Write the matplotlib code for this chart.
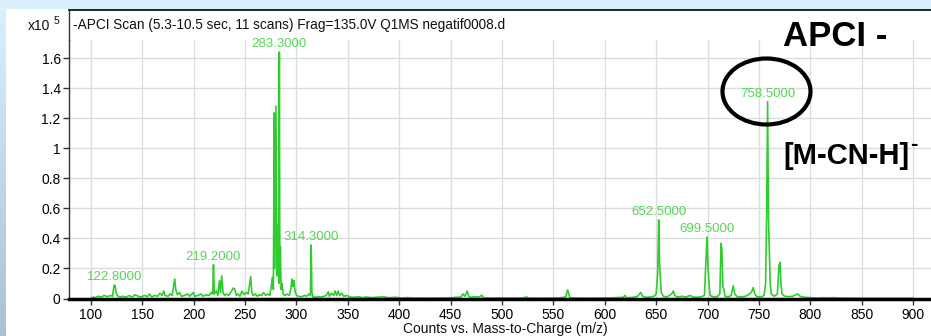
"""APCI negative mode mass spectrum (Q1MS scan) recreated as a static figure."""

from __future__ import annotations

import matplotlib
import numpy as np

matplotlib.use("Agg")
import matplotlib.pyplot as plt
from matplotlib.lines import Line2D
from matplotlib.patches import Ellipse, Rectangle


FIG_W_PX = 931
FIG_H_PX = 336
DPI = 100

SPECTRUM_COLOR = "#2fcc2f"
LABEL_COLOR = "#55d655"
GRID_COLOR = "#dcdcdc"

TITLE_TEXT = "-APCI Scan (5.3-10.5 sec, 11 scans) Frag=135.0V Q1MS negatif0008.d"
X_LABEL = "Counts vs. Mass-to-Charge (m/z)"

# profile: m/z and counts (x1e5)
mz_values = [
    100, 102, 104, 107, 110, 113, 116, 119, 121, 122.3, 122.8, 123.5, 124.5, 125.5,
    128, 131, 134, 137, 140, 143, 146, 149, 152, 155, 157, 159, 162, 165, 167, 169,
    171, 172, 175, 177, 179, 181.5, 182.5, 184, 186, 188, 191, 194, 196, 199.5, 201,
    204, 207, 209, 212, 215, 217, 218.5, 219.2, 220, 222, 223.5, 225, 226, 227.2,
    228.5, 230, 232, 234, 236, 238.5, 240, 241.5, 243, 245, 247, 249, 251, 253,
    255.4, 256.5, 258, 260, 262, 264, 266, 268, 270, 272, 274, 275.5, 276.5, 277.5,
    278.3, 279, 280, 281, 281.7, 282.3, 282.8, 283.3, 283.8, 284.3, 285, 286, 287,
    289, 291, 293, 294.5, 295.5, 296.5, 297.5, 298.5, 300, 302, 304, 306, 308, 310,
    312, 313.5, 314.3, 315, 316, 318, 321, 324, 327, 329, 331, 332, 334, 336, 337.5,
    339, 340.5, 342, 344, 346, 349, 352, 356, 360, 364, 368, 372, 378, 384, 390, 396,
    402, 408, 414, 420, 430, 440, 450, 460, 462, 464, 466.2, 467.5, 470, 474, 478,
    480.2, 482, 490, 500, 510, 520, 524, 526, 540, 555, 562, 563.9, 565, 566, 575,
    590, 605, 618, 619.7, 621, 628, 632, 635, 637, 640, 644, 648, 650, 651.5, 652.5,
    653.3, 654.2, 655, 657, 660, 663, 665, 666.7, 668, 671, 675, 679, 683, 686, 690,
    694, 697, 698.5, 699.5, 700.5, 701.5, 702.5, 706, 710, 712, 713.2, 714, 715, 716,
    717, 720, 723, 725, 726.5, 729, 733, 737, 741, 743, 744.5, 746, 748, 752, 755,
    756.5, 757.5, 758.5, 759.3, 760, 761, 762, 765, 768, 769.5, 770.5, 771.5, 772.5,
    775, 779, 783, 786, 788, 790, 794, 800, 806, 812, 818, 822, 830, 850, 870, 900,
]
counts_e5 = [
    0.0, 0.01, 0.005, 0.015, 0.01, 0.02, 0.012, 0.02, 0.015, 0.08, 0.09, 0.085, 0.04, 0.02,
    0.01, 0.015, 0.008, 0.02, 0.01, 0.025, 0.015, 0.01, 0.02, 0.012, 0.03, 0.01, 0.02, 0.015, 0.035, 0.02,
    0.05, 0.02, 0.015, 0.03, 0.02, 0.13, 0.06, 0.025, 0.04, 0.015, 0.02, 0.03, 0.015, 0.04, 0.015,
    0.02, 0.03, 0.015, 0.025, 0.02, 0.04, 0.03, 0.225, 0.03, 0.05, 0.02, 0.12, 0.04, 0.15,
    0.04, 0.02, 0.03, 0.02, 0.04, 0.07, 0.06, 0.02, 0.03, 0.015, 0.05, 0.025, 0.04, 0.03,
    0.147, 0.04, 0.02, 0.03, 0.015, 0.025, 0.02, 0.04, 0.02, 0.03, 0.02, 0.08, 0.14, 0.06,
    1.235, 0.2, 1.28, 0.15, 0.2, 0.49, 0.1, 1.64, 0.12, 0.345, 0.06, 0.1, 0.03,
    0.02, 0.03, 0.02, 0.06, 0.13, 0.08, 0.12, 0.05, 0.02, 0.015, 0.01, 0.015, 0.02, 0.015,
    0.03, 0.02, 0.356, 0.04, 0.01, 0.008, 0.012, 0.01, 0.015, 0.02, 0.045, 0.015, 0.035, 0.02, 0.05,
    0.02, 0.05, 0.02, 0.035, 0.015, 0.02, 0.01, 0.008, 0.012, 0.006, 0.01, 0.006, 0.008, 0.012, 0.005, 0.008,
    0.004, 0.006, 0.003, 0.004, 0.003, 0.004, 0.005, 0.01, 0.03, 0.015, 0.05, 0.015, 0.008, 0.012, 0.01,
    0.022, 0.005, 0.003, 0.004, 0.003, 0.004, 0.01, 0.003, 0.003, 0.004, 0.01, 0.058, 0.03, 0.005, 0.003,
    0.003, 0.004, 0.008, 0.02, 0.005, 0.008, 0.015, 0.04, 0.015, 0.008, 0.01, 0.015, 0.03, 0.16, 0.523,
    0.24, 0.14, 0.04, 0.015, 0.01, 0.02, 0.03, 0.05, 0.02, 0.01, 0.015, 0.01, 0.02, 0.01, 0.008,
    0.012, 0.02, 0.25, 0.41, 0.2, 0.1, 0.02, 0.01, 0.015, 0.03, 0.367, 0.32, 0.08, 0.06,
    0.015, 0.01, 0.02, 0.085, 0.03, 0.012, 0.01, 0.015, 0.03, 0.045, 0.073, 0.03, 0.012, 0.01, 0.02,
    0.1, 0.54, 1.31, 0.54, 0.35, 0.1, 0.03, 0.015, 0.03, 0.22, 0.24, 0.1, 0.03,
    0.015, 0.012, 0.015, 0.025, 0.03, 0.015, 0.008, 0.006, 0.003, 0.005, 0.004, 0.006, 0.003, 0.002, 0.002, 0.002,
]

# labelled peaks: printed m/z, and where the tip sits
peak_labels = ["122.8000", "219.2000", "283.3000", "314.3000", "652.5000", "699.5000", "758.5000"]
peak_mz = [122.8, 219.2, 283.3, 314.3, 652.5, 699.5, 758.5]
peak_counts_e5 = [0.09, 0.225, 1.64, 0.356, 0.523, 0.41, 1.31]

x_ticks = list(range(100, 901, 50))
y_ticks = [0, 0.2, 0.4, 0.6, 0.8, 1.0, 1.2, 1.4, 1.6]
y_tick_labels = ["0", "0.2", "0.4", "0.6", "0.8", "1", "1.2", "1.4", "1.6"]


def fx(px: float) -> float:
    return px / FIG_W_PX


def fy(py: float) -> float:
    return 1.0 - py / FIG_H_PX


def draw_background(fig) -> None:
    fig.patch.set_facecolor("#d6eef8")
    bg = fig.add_axes([0, 0, 1, 1], zorder=-10)
    bg.set_axis_off()
    gradient = np.linspace(0.0, 1.0, 64).reshape(-1, 1)
    bg.imshow(
        gradient,
        extent=(0, 1, 0, 1),
        aspect="auto",
        cmap=matplotlib.colors.LinearSegmentedColormap.from_list("bg", ["#a9c3d2", "#d9f1fb"]),
        origin="lower",
    )
    bg.set_xlim(0, 1)
    bg.set_ylim(0, 1)
    bg.add_patch(Rectangle((fx(6), 0), 1 - fx(6), fy(9), facecolor="white", edgecolor="none"))


def main() -> None:
    plt.rcParams["font.family"] = ["Liberation Sans", "DejaVu Sans"]
    fig = plt.figure(figsize=(FIG_W_PX / DPI, FIG_H_PX / DPI), dpi=DPI)
    draw_background(fig)

    left, right = fx(69), 1.0
    bottom, top = fy(298.5), fy(40)
    ax = fig.add_axes([left, bottom, right - left, top - bottom])
    ax.set_facecolor("none")

    ax.plot(mz_values, counts_e5, color=SPECTRUM_COLOR, linewidth=1.2, zorder=3)
    for label, mz, counts in zip(peak_labels, peak_mz, peak_counts_e5):
        ax.annotate(
            label,
            xy=(mz, counts),
            xytext=(0, 1.5),
            textcoords="offset points",
            ha="center",
            va="bottom",
            fontsize=9.5,
            color=LABEL_COLOR,
            zorder=4,
        )

    ax.set_xlim(78.6, 917.5)
    ax.set_ylim(0, 1.72)
    ax.set_xticks(x_ticks)
    ax.set_yticks(y_ticks)
    ax.set_yticklabels(y_tick_labels)
    ax.tick_params(axis="both", labelsize=10, length=4, width=1, color="#333333", pad=2)
    ax.tick_params(axis="x", pad=3)
    ax.grid(True, color=GRID_COLOR, linewidth=1.0, zorder=0)
    ax.set_axisbelow(True)

    for side in ("top", "right"):
        ax.spines[side].set_visible(False)
    ax.spines["left"].set_color("#333333")
    ax.spines["left"].set_linewidth(1.0)
    ax.spines["bottom"].set_color("black")
    ax.spines["bottom"].set_linewidth(2.5)
    ax.spines["bottom"].set_zorder(5)

    # frame above the plot area, holding the scan title
    fig.add_artist(Line2D([fx(69), fx(69)], [fy(40), fy(10)], color="#333333", linewidth=1.0))
    fig.add_artist(Line2D([fx(69), 1.0], [fy(10), fy(10)], color="black", linewidth=1.2))
    fig.text(fx(73), fy(25), TITLE_TEXT, fontsize=9.8, va="center", ha="left", color="#111111")
    fig.text(fx(50), fy(26), "x10", fontsize=10, va="center", ha="right", color="#111111")
    fig.text(fx(54), fy(21), "5", fontsize=7.5, va="center", ha="left", color="#111111")

    fig.text(fx(505), fy(329), X_LABEL, fontsize=10, va="center", ha="center", color="#111111")

    # slide annotations
    fig.text(fx(783), fy(36), "APCI -", fontsize=25, fontweight="bold", va="center", ha="left")
    fig.text(fx(783), fy(156), "[M-CN-H]", fontsize=21, fontweight="bold", va="center", ha="left")
    fig.text(fx(910), fy(145), "-", fontsize=16, fontweight="bold", va="center", ha="left")
    fig.add_artist(
        Ellipse(
            (fx(766.5), fy(91.5)),
            width=fx(88),
            height=66 / FIG_H_PX,
            transform=fig.transFigure,
            facecolor="none",
            edgecolor="black",
            linewidth=3.0,
        )
    )

    fig.savefig("out.png", dpi=DPI)
    plt.close(fig)


if __name__ == "__main__":
    main()
